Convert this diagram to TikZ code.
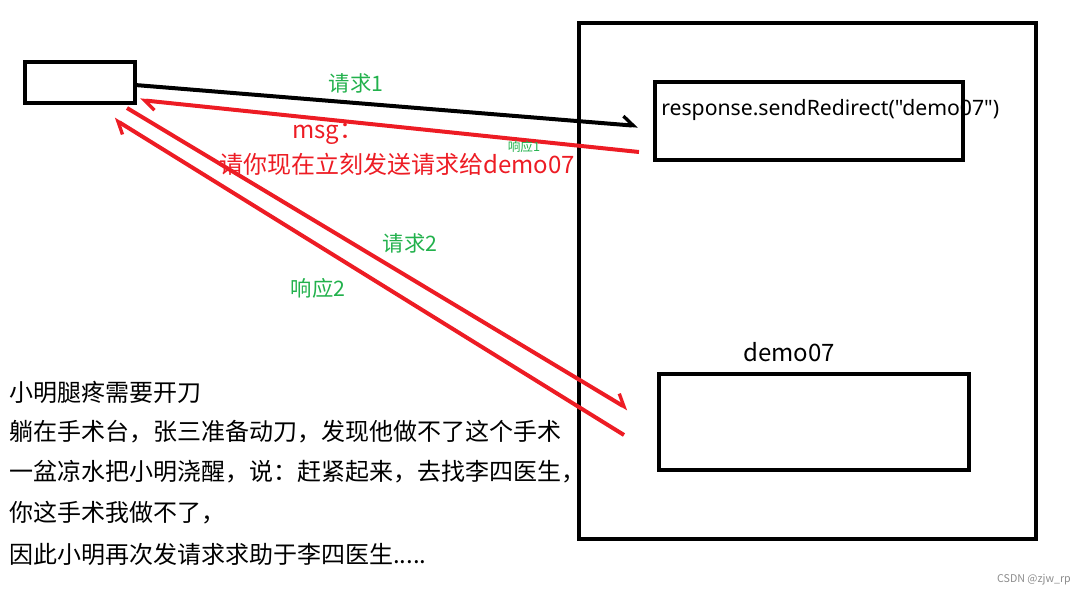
\documentclass[tikz,border=0pt]{standalone}
\usepackage{fontspec}
\setmainfont{Noto Sans CJK SC}
\newfontfamily\latinfont{Noto Sans}
\usetikzlibrary{arrows.meta}
\definecolor{pred}{RGB}{237,28,36}
\definecolor{pgreen}{RGB}{34,177,76}
\tikzset{
  box/.style={draw=black,line width=3pt},
  blk/.style={draw=black,line width=3pt,-{Straight Barb[harpoon,length=8pt,width=13pt,line width=2.5pt]}},
  redarr/.style={draw=pred,line width=3pt,-{Straight Barb[harpoon,length=8pt,width=13pt,line width=2.5pt]}},
  glabel/.style={text=pgreen,font=\fontsize{16}{18}\selectfont,inner sep=0pt},
  rlabel/.style={text=pred,font=\fontsize{18}{20}\selectfont,inner sep=0pt},
  story/.style={anchor=west,font=\fontsize{18}{20}\selectfont,inner sep=0pt},
}
\begin{document}
\begin{tikzpicture}[x=0.75pt,y=-0.75pt]
\useasboundingbox (0,0) rectangle (1088,598);
% boxes
\draw[box] (25,62) rectangle (135,103);
\node[inner sep=0pt] (client) at (80,82.5) {};
\draw[box] (579,23) rectangle (1036,539);
\node[inner sep=0pt] (server) at (807,281) {};
\draw[box] (655,82) rectangle (963,160);
\node[inner sep=0pt] (resp) at (809,121) {};
\draw[box] (659,374) rectangle (969,470);
\node[inner sep=0pt] (demo) at (814,422) {};
% texts in boxes
\node[anchor=west,inner sep=0pt,font=\latinfont\fontsize{15.9}{18}\selectfont] (redir) at (661,110) {response.sendRedirect("demo07")};
\node[inner sep=0pt,font=\fontsize{18}{20}\selectfont] (demolbl) at (789,352) {demo07};
% connector endpoints
\coordinate (a1s) at (135,85);
\coordinate (a1e) at (638,126);
\coordinate (r1s) at (639,152);
\coordinate (r1e) at (140,100);
\coordinate (a2s) at (127,108);
\coordinate (a2e) at (628,409);
\coordinate (r2s) at (624,435);
\coordinate (r2e) at (114,119);
\draw[blk] (a1s) -- (a1e);
\draw[redarr] (r1s) -- (r1e);
\draw[redarr] (a2s) -- (a2e);
\draw[redarr] (r2s) -- (r2e);
% labels
\node[glabel] (q1) at (356,83) {请求1};
\node[rlabel,anchor=west] (msg) at (292,134) {msg：};
\node[rlabel] (msgtxt) at (397,164) {请你现在立刻发送请求给demo07};
\node[text=pgreen,inner sep=0pt,font=\fontsize{9.5}{11}\selectfont] (x1) at (524,146.5) {响应1};
\node[glabel] (q2) at (410,243) {请求2};
\node[glabel] (x2) at (318,288) {响应2};
% story
\node[story] (s1) at (9,392) {小明腿疼需要开刀};
\node[story] (s2) at (9,432) {躺在手术台，张三准备动刀，发现他做不了这个手术};
\node[story] (s3) at (9,472) {一盆凉水把小明浇醒，说：赶紧起来，去找李四医生，};
\node[story] (s4) at (9,513) {你这手术我做不了，};
\node[story] (s5) at (9,554) {因此小明再次发请求求助于李四医生.....};
\node[text=black!45,inner sep=0pt,font=\fontsize{8}{9}\selectfont] (wm) at (1034,580) {CSDN @zjw\_rp};
\end{tikzpicture}
\end{document}
